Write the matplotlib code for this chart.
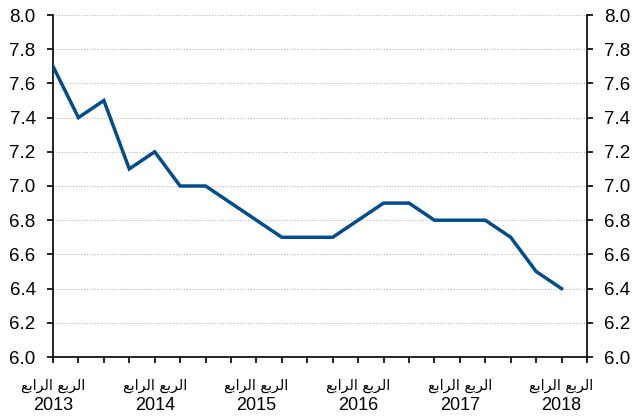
import matplotlib
matplotlib.use("Agg")
import matplotlib.pyplot as plt
from matplotlib.ticker import MultipleLocator, FormatStrFormatter

# quarterly values, 2013 Q4 .. 2018 Q4
values = [7.7, 7.4, 7.5, 7.1, 7.2, 7.0, 7.0, 6.9, 6.8, 6.7, 6.7,
          6.7, 6.8, 6.9, 6.9, 6.8, 6.8, 6.8, 6.7, 6.5, 6.4]
years = ["2013", "2014", "2015", "2016", "2017", "2018"]
quarter_label = "الربع الرابع"

# matplotlib has no arabic shaping, so pick presentation forms by hand
# (isolated, final, initial, medial)
forms = {
    "ا": ("\uFE8D", "\uFE8E", None, None),
    "ر": ("\uFEAD", "\uFEAE", None, None),
    "ل": ("\uFEDD", "\uFEDE", "\uFEDF", "\uFEE0"),
    "ب": ("\uFE8F", "\uFE90", "\uFE91", "\uFE92"),
    "ع": ("\uFEC9", "\uFECA", "\uFECB", "\uFECC"),
}

def shape(s):
    out = []
    for i, c in enumerate(s):
        if c not in forms:
            out.append(c)
            continue
        prev = s[i - 1] if i > 0 else " "
        nxt = s[i + 1] if i < len(s) - 1 else " "
        jp = prev in forms and forms[prev][2] is not None
        jn = forms[c][2] is not None and nxt in forms
        iso, fin, ini, med = forms[c]
        if jp and jn:
            out.append(med)
        elif jp:
            out.append(fin)
        elif jn:
            out.append(ini)
        else:
            out.append(iso)
    return "".join(out)[::-1]

plt.rcParams["font.family"] = ["Liberation Sans", "DejaVu Sans"]

fig = plt.figure(figsize=(6.38, 4.16), dpi=100)
ax = fig.add_axes([53 / 638, 59 / 416, 534 / 638, 342 / 416])

x = list(range(len(values)))
ax.plot(x, values, color="#004c8c", linewidth=2.5, solid_joinstyle="miter", zorder=3)

ax.set_xlim(0, len(values))
ax.set_ylim(6.0, 8.0)
ax.yaxis.set_major_locator(MultipleLocator(0.2))
ax.yaxis.set_major_formatter(FormatStrFormatter("%.1f"))
ax.grid(axis="y", color="#b8b8b8", linestyle=(0, (1, 1.5)), linewidth=0.8)

major = list(range(0, len(values), 4))
ax.set_xticks(major)
ax.set_xticklabels(years, fontsize=13)
ax.set_xticks(range(len(values) + 1), minor=True)

# arabic quarter label above each year
for m in major:
    ax.annotate(shape(quarter_label), xy=(m, 0), xycoords=("data", "axes fraction"),
                xytext=(0, -20.5), textcoords="offset points",
                ha="center", va="center", fontsize=10.3, family=["DejaVu Sans"])

ax.tick_params(axis="x", which="both", direction="out", length=4.5, width=1.2, pad=24)
ax.tick_params(axis="y", which="both", direction="out", length=4.5, width=1.2,
               left=True, right=True, labelleft=True, labelright=True,
               labelsize=13.5, pad=8)

ax.spines["top"].set_visible(False)
for s in ["left", "right", "bottom"]:
    ax.spines[s].set_linewidth(1.2)

fig.savefig("out.png", dpi=100)
